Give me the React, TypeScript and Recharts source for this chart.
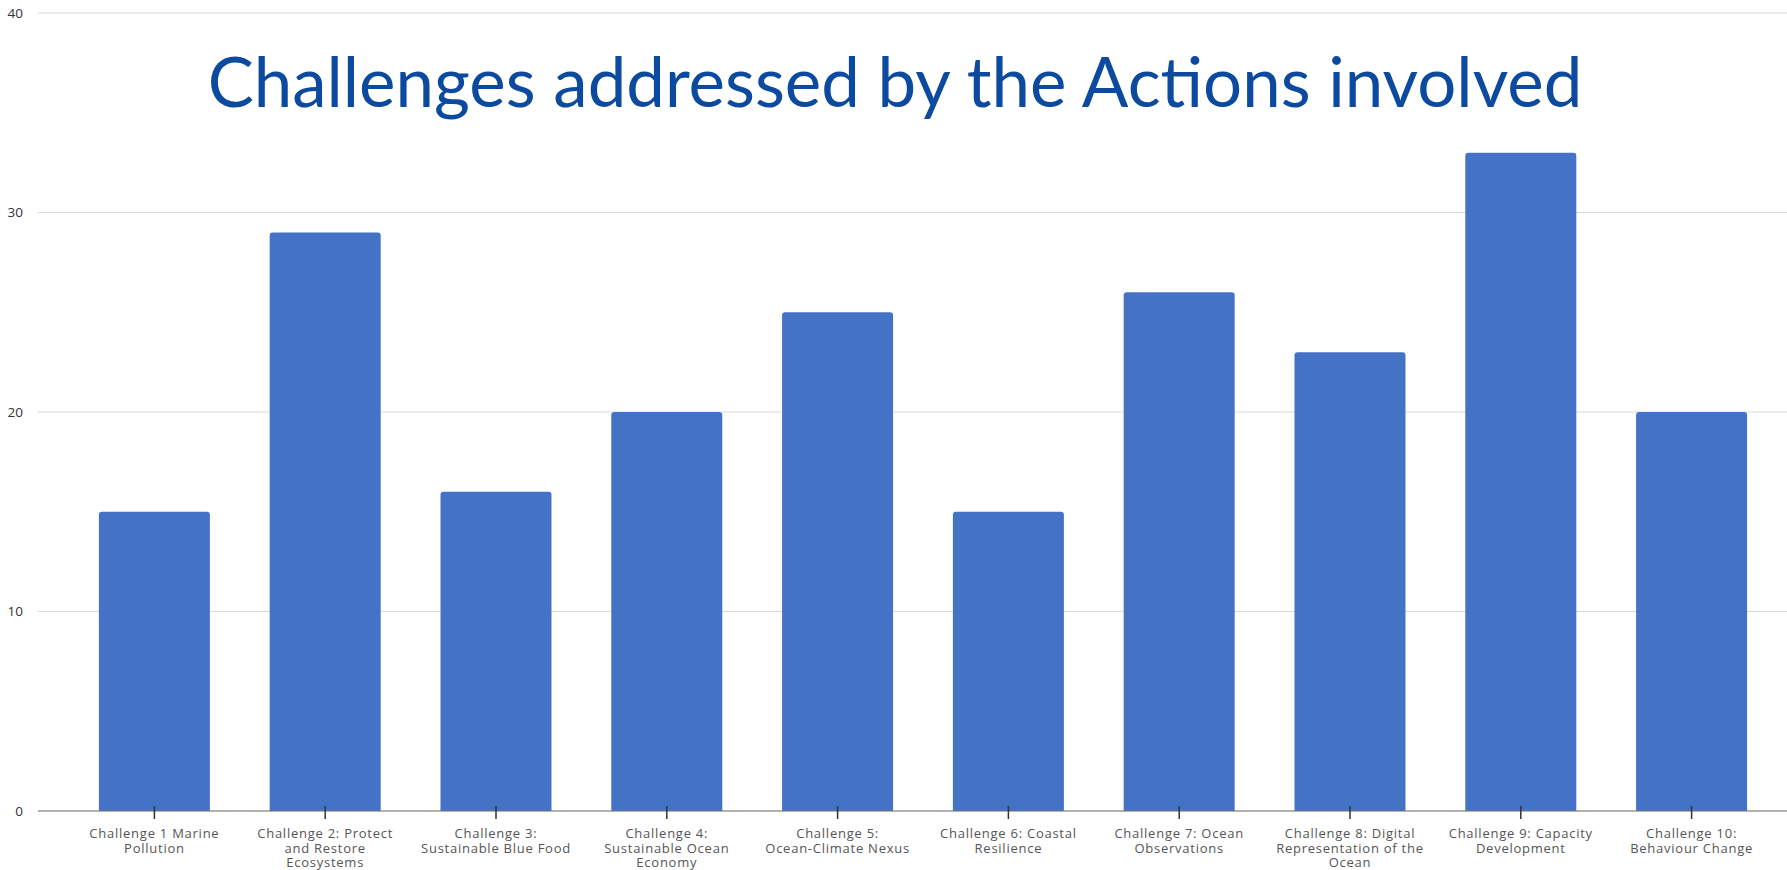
import React from "react";
import { BarChart, Bar, XAxis, YAxis, CartesianGrid } from "recharts";

const categories = [
  "Challenge 1 Marine\nPollution",
  "Challenge 2: Protect\nand Restore\nEcosystems",
  "Challenge 3:\nSustainable Blue Food",
  "Challenge 4:\nSustainable Ocean\nEconomy",
  "Challenge 5:\nOcean-Climate Nexus",
  "Challenge 6: Coastal\nResilience",
  "Challenge 7: Ocean\nObservations",
  "Challenge 8: Digital\nRepresentation of the\nOcean",
  "Challenge 9: Capacity\nDevelopment",
  "Challenge 10:\nBehaviour Change",
];
const actionCounts = [15, 29, 16, 20, 25, 15, 26, 23, 33, 20];
const yTicks = [0, 10, 20, 30, 40];
const title = "Challenges addressed by the Actions involved";

const data = categories.map((c, i) => ({ name: c, value: actionCounts[i] }));

const XTick = (props: any) => {
  const { x, y, payload } = props;
  const lines = String(payload.value).split("\n");
  return (
    <g>
      <line x1={x} x2={x} y1={y - 13} y2={y} stroke="#333" strokeWidth={1.5} />
      <text
        x={x}
        y={y + 19}
        textAnchor="middle"
        fontFamily="Open Sans"
        fontSize={13}
        letterSpacing={0.75}
        fill="#555"
      >
        {lines.map((l, i) => (
          <tspan key={i} x={x} dy={i === 0 ? 0 : 14.5}>
            {l}
          </tspan>
        ))}
      </text>
    </g>
  );
};

export default function App() {
  return (
    <div style={{ position: "absolute", left: 0, top: 0, width: 1787, height: 870, background: "#fff" }}>
      <BarChart
        width={1787}
        height={870}
        data={data}
        margin={{ top: 13, right: 0, bottom: 0, left: 0 }}
        barCategoryGap="17.5%"
      >
        <CartesianGrid vertical={false} stroke="#d9d9d9" />
        <XAxis
          dataKey="name"
          interval={0}
          tickLine={false}
          axisLine={{ stroke: "#777" }}
          tick={<XTick />}
          height={59}
          padding={{ left: 31, right: 10 }}
        />
        <YAxis
          domain={[0, 40]}
          ticks={yTicks}
          width={38}
          axisLine={false}
          tickLine={false}
          tickMargin={9}
          tick={{ fontFamily: "Open Sans", fontSize: 13.5, fill: "#333" }}
        />
        <Bar dataKey="value" fill="#4472C4" radius={[3, 3, 0, 0]} isAnimationActive={false} />
        <text
          x={895}
          y={107}
          textAnchor="middle"
          fontFamily="Lato"
          fontSize={69}
          fill="#0B4A9E"
        >
          {title}
        </text>
      </BarChart>
    </div>
  );
}
